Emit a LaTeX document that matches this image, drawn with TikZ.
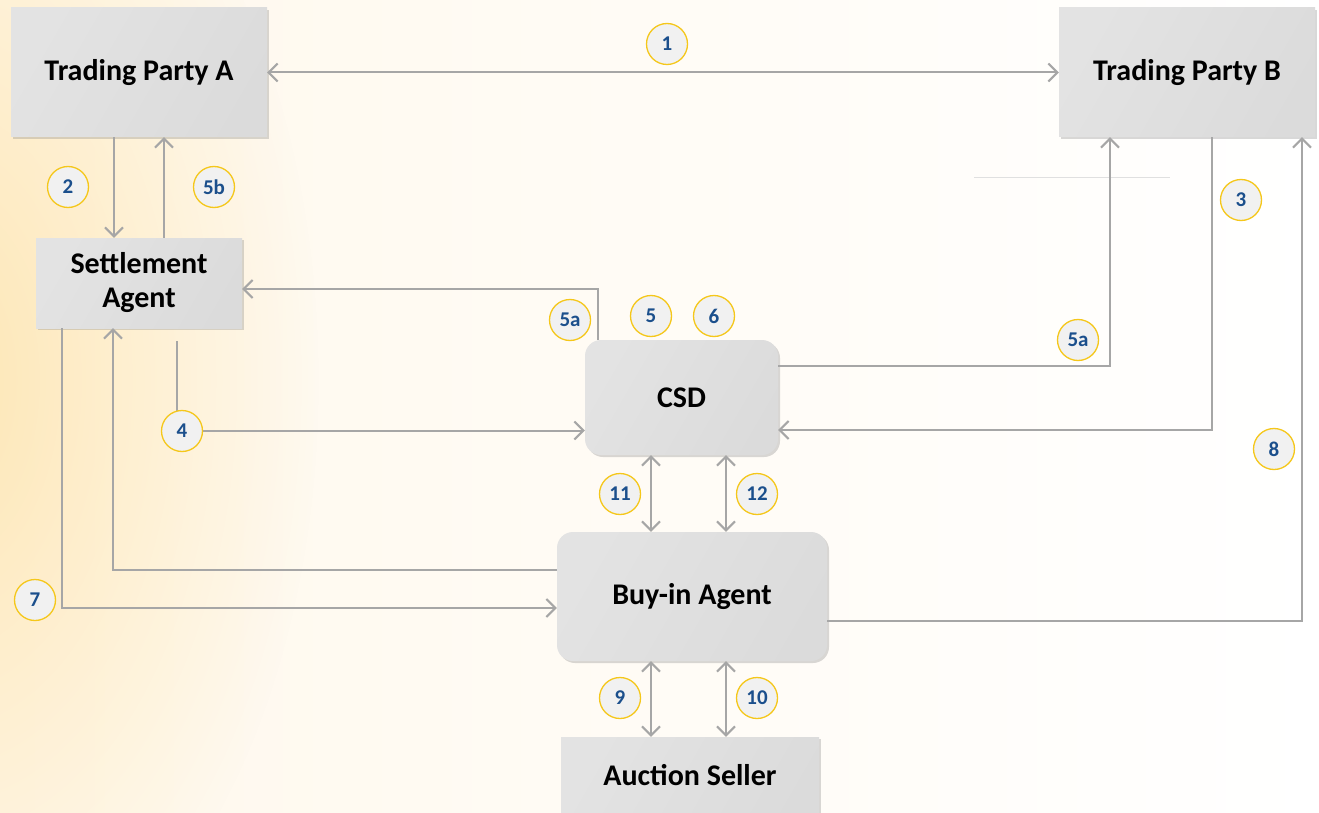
\documentclass[tikz,border=0pt]{standalone}
\usepackage{fontspec}
\setmainfont{Carlito}
\usetikzlibrary{arrows.meta,shadows,calc,fadings}

\definecolor{wire}{HTML}{A6A6A6}
\definecolor{badgeline}{HTML}{F5C71A}
\definecolor{badgefill}{HTML}{F1F1F1}
\definecolor{badgetext}{HTML}{1B4F8C}
\definecolor{glow}{HTML}{FDDF9C}
\definecolor{cream}{HTML}{FFF8EC}

\tikzfading[name=softglow, inner color=transparent!0, outer color=transparent!100]

\tikzset{
  party/.style={draw=none, left color=black!11, middle color=black!4, right color=black!14,
    shading angle=60, drop shadow={opacity=0.3, shadow xshift=2pt, shadow yshift=-2pt},
    font=\fontsize{30}{33}\selectfont\bfseries, align=center, inner sep=0pt},
  roundparty/.style={party, rounded corners=16pt},
  badge/.style={circle, draw=badgeline, line width=1.3pt, fill=badgefill, minimum size=41pt,
    inner sep=0pt, text=badgetext, font=\fontsize{21}{22}\selectfont\bfseries},
  wireline/.style={draw=wire, line width=2pt},
  tip/.style={wireline, -{Straight Barb[length=9pt,width=18pt,line width=2pt]}},
  twotip/.style={wireline, {Straight Barb[length=9pt,width=18pt,line width=2pt]}-{Straight Barb[length=9pt,width=18pt,line width=2pt]}},
}

\begin{document}
\begin{tikzpicture}[x=1pt,y=-1pt]
  % canvas: cream wash fading to white, warm glow on the left edge
  \useasboundingbox (0,0) rectangle (1319,813);
  \shade[left color=cream, right color=white] (0,0) rectangle (1319,813);
  \begin{scope}
    \clip (0,0) rectangle (1319,813);
    \fill[glow, opacity=0.7, path fading=softglow] (-60,380) ellipse (380 and 640);
  \end{scope}

  % entities
  \node[party, minimum width=256pt, minimum height=129pt] (A) at (139,72.5) {Trading Party A};
  \node[party, minimum width=256pt, minimum height=129pt] (B) at (1187,72.5) {Trading Party B};
  \node[party, minimum width=206pt, minimum height=90pt] (SA) at (139,283) {Settlement\\[1pt]Agent};
  \node[roundparty, minimum width=193pt, minimum height=115pt] (CSD) at (681.5,397.5) {CSD};
  \node[roundparty, minimum width=270pt, minimum height=129pt] (BA) at (692,596.5) {Buy-in Agent};
  \node[party, minimum width=258pt, minimum height=90pt] (AS) at (690,782) {};
  \node[font=\fontsize{30}{33}\selectfont\bfseries] (AStext) at (690,775) {Auction Seller};

  % lanes and loose ends
  \coordinate (laneL) at (651,0);
  \coordinate (laneR) at (726,0);
  \coordinate (start4) at (177,341);

  % faint rule
  \draw[black!12, line width=0.8pt] (974,177) -- (1170,177);

  % connectors
  \draw[twotip] (A.east) -- (B.west);
  \draw[tip] ([xshift=-25]A.south) -- ([xshift=-25]SA.north);
  \draw[tip] ([xshift=25]SA.north) -- ([xshift=25]A.south);
  \draw[tip] ([xshift=-83.5]CSD.north) |- ([yshift=-6]SA.east);
  \draw[tip] ([yshift=31.5]CSD.east) -| ([xshift=-77]B.south);
  \draw[tip] ([xshift=25]B.south) |- ([yshift=-32.5]CSD.east);
  \draw[tip] (start4) |- ([yshift=-33]CSD.west);
  \draw[twotip] (CSD.south -| laneL) -- (BA.north -| laneL);
  \draw[twotip] (CSD.south -| laneR) -- (BA.north -| laneR);
  \draw[tip] ([xshift=-77]SA.south) |- ([yshift=-11.5]BA.west);
  \draw[tip] ([yshift=26.5]BA.west) -| ([xshift=-26]SA.south);
  \draw[tip] ([yshift=-24.5]BA.east) -| ([xshift=115]B.south);
  \draw[twotip] (BA.south -| laneL) -- (AS.north -| laneL);
  \draw[twotip] (BA.south -| laneR) -- (AS.north -| laneR);

  % step badges
  \node[badge] (n1) at (667,44) {1};
  \node[badge] (n2) at (68,187) {2};
  \node[badge] (n5b) at (214,187) {5b};
  \node[badge] (n3) at (1241,200) {3};
  \node[badge] (n5aL) at (570,320) {5a};
  \node[badge] (n5) at (651,316) {5};
  \node[badge] (n6) at (714,316) {6};
  \node[badge] (n5aR) at (1078,340) {5a};
  \node[badge] (n4) at (182,431) {4};
  \node[badge] (n8) at (1274,449) {8};
  \node[badge] (n11) at (620,494) {11};
  \node[badge] (n12) at (757,494) {12};
  \node[badge] (n7) at (35,600) {7};
  \node[badge] (n9) at (620,698) {9};
  \node[badge] (n10) at (757,698) {10};
\end{tikzpicture}
\end{document}
